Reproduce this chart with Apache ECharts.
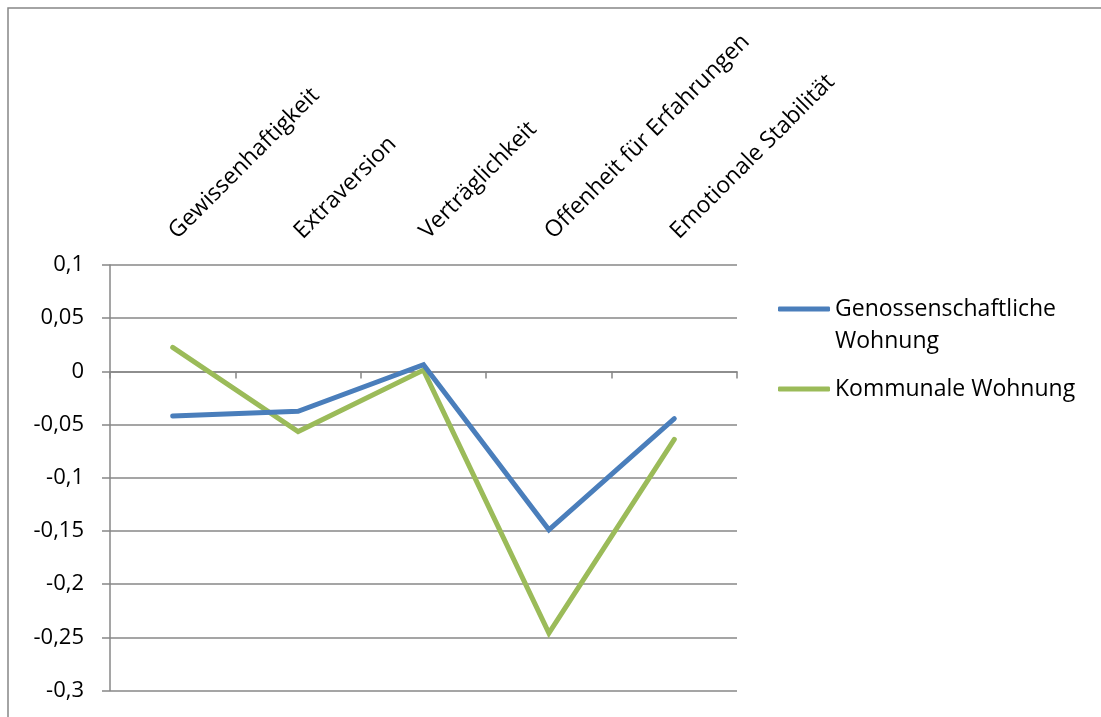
<!DOCTYPE html>
<html>
<head>
<meta charset="utf-8">
<script src="https://cdn.jsdelivr.net/npm/echarts@6/dist/echarts.min.js"></script>
<style>
html,body{margin:0;padding:0;background:#fff;}
#chart{width:1101px;height:717px;}
</style>
</head>
<body>
<div id="chart"></div>
<script>
const categories = ['Gewissenhaftigkeit', 'Extraversion', 'Verträglichkeit', 'Offenheit für Erfahrungen', 'Emotionale Stabilität'];
const seriesNames = ['Genossenschaftliche Wohnung', 'Kommunale Wohnung'];
const genossenschaftlich = [-0.042, -0.0375, 0.0063, -0.149, -0.0445];
const kommunal = [0.0225, -0.0566, 0.0012, -0.246, -0.064];
const yTicks = { min: -0.3, max: 0.1, step: 0.05 };

const FONT = '"Open Sans", sans-serif';
const GRID_COLOR = '#878787';
const chart = echarts.init(document.getElementById('chart'), null, { renderer: 'canvas' });

chart.setOption({
  animation: false,
  backgroundColor: '#ffffff',
  textStyle: { fontFamily: FONT },
  graphic: [{
    type: 'rect',
    shape: { x: 8, y: 8, width: 1300, height: 900 },
    style: { fill: 'none', stroke: GRID_COLOR, lineWidth: 1.5 },
    silent: true
  }],
  grid: { left: 110, right: 364, top: 265, bottom: 26.5, containLabel: false },
  legend: {
    orient: 'vertical',
    left: 778,
    top: 261,
    padding: 0,
    itemWidth: 52,
    itemHeight: 5,
    itemGap: 16,
    icon: 'roundRect',
    textStyle: { fontFamily: FONT, fontSize: 23, color: '#000', lineHeight: 32 },
    formatter: function (n) { return n === seriesNames[0] ? ' \nGenossenschaftliche\nWohnung' : n; },
    data: [seriesNames[0], seriesNames[1]]
  },
  xAxis: [
    {
      type: 'category',
      data: categories,
      position: 'top',
      boundaryGap: true,
      axisLine: { show: false, onZero: false },
      axisTick: { show: false },
      splitLine: { show: false },
      axisLabel: {
        rotate: -45,
        interval: 0,
        margin: 30,
        align: 'left',
        verticalAlign: 'middle',
        fontFamily: FONT,
        fontSize: 23,
        color: '#000'
      }
    },
    {
      type: 'category',
      data: categories,
      position: 'bottom',
      boundaryGap: true,
      axisLine: { show: true, onZero: true, lineStyle: { color: GRID_COLOR, width: 1.5 } },
      axisTick: { show: true, length: 7, interval: 0, lineStyle: { color: GRID_COLOR, width: 1.5 } },
      axisLabel: { show: false },
      splitLine: { show: false }
    }
  ],
  yAxis: {
    type: 'value',
    min: yTicks.min,
    max: yTicks.max,
    interval: yTicks.step,
    axisLine: { show: true, lineStyle: { color: GRID_COLOR, width: 1.5 } },
    axisTick: { show: true, length: 8, lineStyle: { color: GRID_COLOR, width: 1.5 } },
    splitLine: { show: true, lineStyle: { color: GRID_COLOR, width: 1.5 } },
    axisLabel: {
      margin: 26,
      fontFamily: FONT,
      fontSize: 22,
      color: '#000',
      formatter: function (v) { return String(+v.toFixed(2)).replace('.', ','); }
    }
  },
  series: [
    {
      name: seriesNames[0],
      type: 'line',
      data: genossenschaftlich,
      xAxisIndex: 0,
      showSymbol: false,
      symbol: 'none',
      color: '#4A7EBB',
      lineStyle: { width: 5, color: '#4A7EBB', cap: 'round', join: 'miter' },
      z: 3
    },
    {
      name: seriesNames[1],
      type: 'line',
      data: kommunal,
      xAxisIndex: 0,
      showSymbol: false,
      symbol: 'none',
      color: '#9BBB59',
      lineStyle: { width: 5, color: '#9BBB59', cap: 'round', join: 'miter' },
      z: 2
    }
  ]
});
</script>
</body>
</html>
